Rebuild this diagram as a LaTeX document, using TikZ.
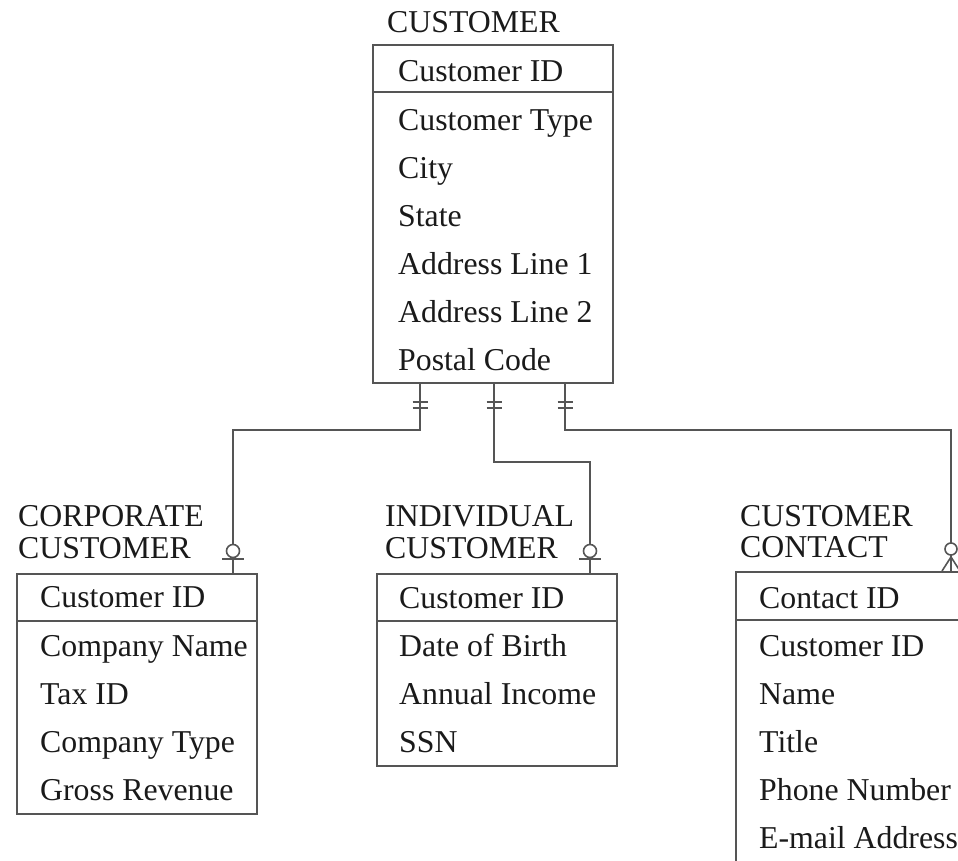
\documentclass[tikz,border=0pt]{standalone}
\usepackage{fontspec}
\setmainfont{Liberation Serif}
\definecolor{ln}{HTML}{555555}
\definecolor{tx}{HTML}{1A1A1A}
\begin{document}
\begin{tikzpicture}[x=1pt,y=-1pt,
  ent/.style={draw=ln,line width=1.6pt,rectangle,inner sep=0,anchor=north west},
  sep/.style={draw=ln,line width=1.6pt},
  conn/.style={draw=ln,line width=1.6pt},
  lbl/.style={anchor=base west,inner sep=0,text=tx,font=\fontsize{31.8}{37}\selectfont},
  ttl/.style={anchor=base west,inner sep=0,text=tx,font=\fontsize{31.8}{37}\selectfont,align=left}]
\useasboundingbox (0,0) rectangle (958,860);
\clip (0,0) rectangle (958,860);
% CUSTOMER
\node[ttl] (tcust) at (387,32) {CUSTOMER};
\node[ent,minimum width=240,minimum height=338] (cust) at (372,44) {};
\draw[sep] (372,92) -- (612,92);
\node[lbl] (c1) at (398,81) {Customer ID};
\node[lbl] (c2) at (398,130) {Customer Type};
\node[lbl] (c3) at (398,178) {City};
\node[lbl] (c4) at (398,226) {State};
\node[lbl] (c5) at (398,274) {Address Line 1};
\node[lbl] (c6) at (398,322) {Address Line 2};
\node[lbl] (c7) at (398,370) {Postal Code};
% CORPORATE CUSTOMER
\node[ttl] (tcorp1) at (18,526) {CORPORATE};
\node[ttl] (tcorp2) at (18,558) {CUSTOMER};
\node[ent,minimum width=240,minimum height=240] (corp) at (16,573) {};
\draw[sep] (16,621) -- (256,621);
\node[lbl] (p1) at (40,607) {Customer ID};
\node[lbl] (p2) at (40,656) {Company Name};
\node[lbl] (p3) at (40,704) {Tax ID};
\node[lbl] (p4) at (40,752) {Company Type};
\node[lbl] (p5) at (40,800) {Gross Revenue};
% INDIVIDUAL CUSTOMER
\node[ttl] (tind1) at (385,526) {INDIVIDUAL};
\node[ttl] (tind2) at (385,558) {CUSTOMER};
\node[ent,minimum width=240,minimum height=192] (ind) at (376,573) {};
\draw[sep] (376,621) -- (616,621);
\node[lbl] (i1) at (399,608) {Customer ID};
\node[lbl] (i2) at (399,656) {Date of Birth};
\node[lbl] (i3) at (399,704) {Annual Income};
\node[lbl] (i4) at (399,752) {SSN};
% CUSTOMER CONTACT
\node[ttl] (tcon1) at (740,526) {CUSTOMER};
\node[ttl] (tcon2) at (740,557) {CONTACT};
\node[ent,minimum width=260,minimum height=320] (con) at (735,571) {};
\draw[sep] (735,620) -- (995,620);
\node[lbl] (n1) at (759,608) {Contact ID};
\node[lbl] (n2) at (759,656) {Customer ID};
\node[lbl] (n3) at (759,704) {Name};
\node[lbl] (n4) at (759,752) {Title};
\node[lbl] (n5) at (759,800) {Phone Number};
\node[lbl] (n6) at (759,848) {E-mail Address};
% connectors
\coordinate (k1) at (420,430);
\coordinate (k2) at (233,430);
\coordinate (m1) at (494,462);
\coordinate (m2) at (590,462);
\coordinate (r1) at (565,430);
\coordinate (r2) at (951,430);
\draw[conn] (cust.south -| k1) -- (k1) -- (k2) -- (corp.north -| k2);
\draw[conn] (cust.south -| m1) -- (m1) -- (m2) -- (ind.north -| m2);
\draw[conn] (cust.south -| r1) -- (r1) -- (r2) -- (con.north -| r2);
% one marks
\foreach \xx in {420,494,565}{
  \draw[conn] (\xx-7.5,402) -- (\xx+7.5,402);
  \draw[conn] (\xx-7.5,408) -- (\xx+7.5,408);
}
% zero-or-one marks
\foreach \xx in {233,590}{
  \draw[conn,fill=white] (\xx,551) circle (6.5);
  \draw[conn] (\xx-11,559) -- (\xx+11,559);
}
% zero-or-many mark
\draw[conn,fill=white] (951,549) circle (6);
\draw[conn] (951,557) -- (942,571);
\draw[conn] (951,557) -- (960,571);
\end{tikzpicture}
\end{document}
